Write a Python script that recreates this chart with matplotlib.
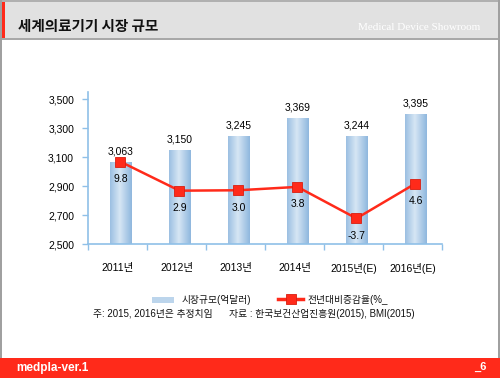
import numpy as np
import matplotlib.pyplot as plt
from matplotlib.patches import Rectangle
from matplotlib.colors import LinearSegmentedColormap

plt.rcParams['font.family'] = ['Liberation Sans', 'Noto Sans CJK KR', 'DejaVu Sans']

years = ['2011년', '2012년', '2013년', '2014년', '2015년(E)', '2016년(E)']
market = [3063, 3150, 3245, 3369, 3244, 3395]
growth = [9.8, 2.9, 3.0, 3.8, -3.7, 4.6]
title = '세계의료기기 시장 규모'
subtitle = 'Medical Device Showroom'
bar_name = '시장규모(억달러)'
line_name = '전년대비증감율(%_'
note = '주: 2015, 2016년은 추정치임      자료 : 한국보건산업진흥원(2015), BMI(2015)'

W, H = 500, 378
fig = plt.figure(figsize=(5, 3.78), dpi=100)
fig.patch.set_facecolor('white')

def px(x, y, w, h):
    # pixel box (top-left origin) -> figure fraction
    return (x / W, 1 - (y + h) / H, w / W, h / H)

def rect(x, y, w, h, color):
    l, b, ww, hh = px(x, y, w, h)
    fig.patches.append(Rectangle((l, b), ww, hh, transform=fig.transFigure,
                                 facecolor=color, edgecolor='none', zorder=-1))

# slide frame
rect(0, 2, 500, 36, '#e1e1e1')
rect(0, 38, 500, 2, '#a8a8a8')
rect(0, 2, 5, 36, '#ff2a1a')
rect(0, 0, 500, 2, '#b0b0b0')
rect(0, 0, 2, 378, '#a0a0a0')
rect(498, 0, 2, 378, '#a0a0a0')
rect(0, 358, 500, 20, '#ff2a1a')

fig.text(18 / W, 1 - 26 / H, title, fontsize=10.5, fontweight='bold',
         family=['Noto Sans CJK KR'], va='center', color='#111111')
fig.text(480 / W, 1 - 28 / H, subtitle, fontsize=8, family=['Liberation Serif'],
         va='center', ha='right', color='white')
fig.text(16 / W, 1 - 368 / H, 'medpla-ver.1', fontsize=8.5, fontweight='bold',
         va='center', color='white')
fig.text(486 / W, 1 - 367 / H, '_6', fontsize=8, fontweight='bold',
         va='center', ha='right', color='white')

# chart
ax = fig.add_axes(px(88, 92, 354, 152))
x = np.arange(len(years))
bars = ax.bar(x + 0.05, market, width=0.36, color='#bcd5ec', edgecolor='#a3c4e4',
              linewidth=0.6, zorder=2)
grad = np.abs(np.linspace(0, 1, 64) - 0.45)
grad = np.vstack([grad, grad])
cmap = LinearSegmentedColormap.from_list('bl', ['#d6e6f4', '#8fb7de'])
for b in bars:
    im = ax.imshow(grad, extent=(b.get_x(), b.get_x() + b.get_width(), 2500, b.get_height()),
                   cmap=cmap, aspect='auto', zorder=2, vmin=0, vmax=0.55)
    im.set_clip_path(b)
for xi, v in zip(x, market):
    ax.text(xi + 0.05, v + 40, f'{v:,}', ha='center', va='bottom', fontsize=7.5,
            color='black')

ax.set_xlim(-0.5, len(years) - 0.5)
ax.set_ylim(2500, 3550)
ax.set_yticks(range(2500, 3501, 200))
ax.set_yticklabels([f'{t:,}' for t in range(2500, 3501, 200)], fontsize=7.5, color='black')
ax.set_xticks(np.arange(-0.5, len(years), 1))
ax.set_xticklabels([])
ax.set_xticks(x, minor=True)
ax.set_xticklabels(years, minor=True, fontsize=7.5, color='black')
ax.tick_params(axis='x', which='minor', length=0, pad=14)
ax.tick_params(axis='x', which='major', length=4, color='#8fc0e8', width=1)
ax.tick_params(axis='y', length=4, color='#8fc0e8', width=1, pad=6)
for s in ['top', 'right']:
    ax.spines[s].set_visible(False)
for s in ['left', 'bottom']:
    ax.spines[s].set_color('#8fc0e8')
    ax.spines[s].set_linewidth(1.2)
ax.set_facecolor('none')

ax2 = ax.twinx()
ax2.set_ylim(-9.8, 26.4)
ax2.plot(x + 0.05, growth, color='#ff2a1a', linewidth=1.8, marker='s', markersize=7.5,
         markeredgecolor='#d81e10', markeredgewidth=0.6, zorder=3)
for xi, v in zip(x, growth):
    ax2.text(xi + 0.05, v - 3.0, f'{v}', ha='center', va='top', fontsize=7.5,
             color='black')
ax2.axis('off')

# legend
l, b, w, h = px(152, 297, 22, 6)
fig.patches.append(Rectangle((l, b), w, h, transform=fig.transFigure,
                             facecolor='#bcd5ec', edgecolor='none'))
fig.text(182 / W, 1 - 300 / H, bar_name, fontsize=7, va='center', color='#111111')
fig.lines.append(plt.Line2D([278 / W, 303 / W], [1 - 299 / H, 1 - 299 / H],
                            transform=fig.transFigure, color='#ff2a1a', linewidth=2.5))
fig.lines.append(plt.Line2D([290.5 / W], [1 - 299 / H], transform=fig.transFigure,
                            color='#ff2a1a', marker='s', markersize=7,
                            markeredgecolor='#d81e10', markeredgewidth=0.6))
fig.text(308 / W, 1 - 300 / H, line_name, fontsize=7, va='center', color='#111111')
fig.text(93 / W, 1 - 314 / H, note, fontsize=7, va='center', color='#111111')

fig.savefig('out.png', dpi=100)
